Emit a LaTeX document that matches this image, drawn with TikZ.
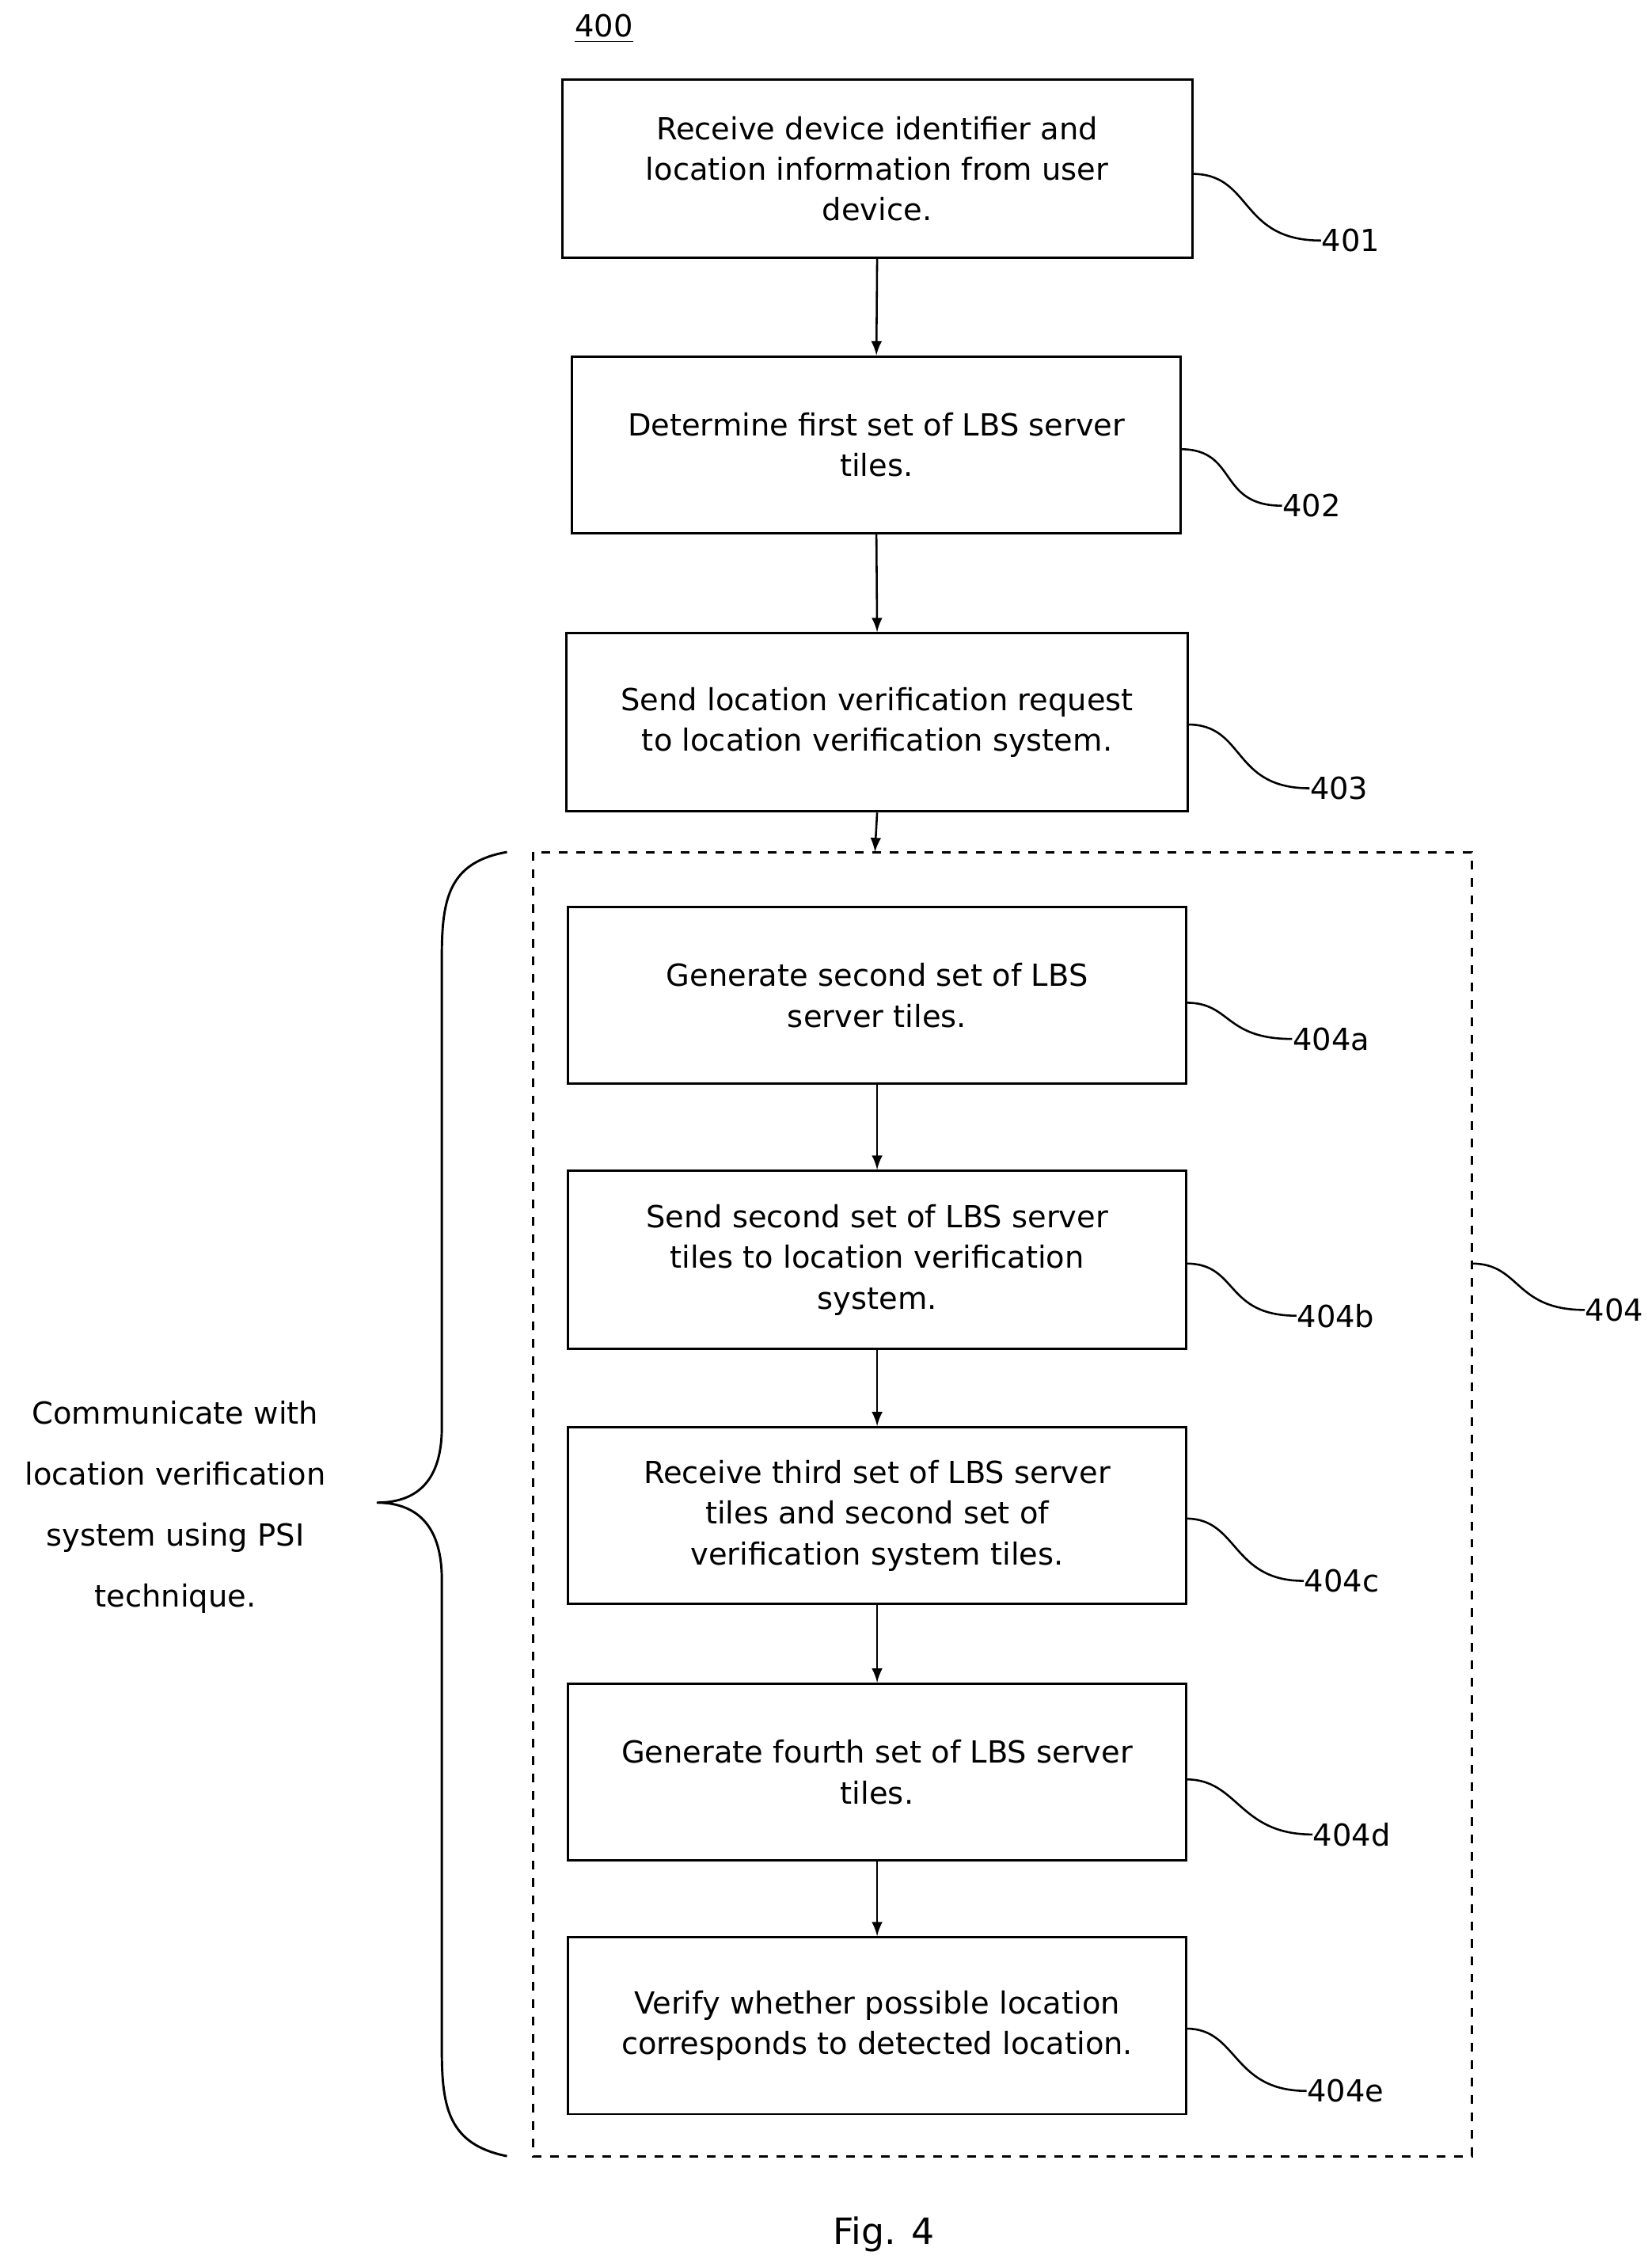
\documentclass[tikz,border=0pt]{standalone}
\usepackage{fontspec}
\setmainfont{DejaVu Sans}
\begin{document}
\begin{tikzpicture}[x=0.5pt,y=-0.5pt,
  box/.style={draw,line width=0.8pt,align=center,inner sep=0pt,font=\fontsize{10.5}{14}\selectfont},
  lbl/.style={anchor=west,font=\fontsize{10.5}{14}\selectfont,inner sep=0pt},
  lead/.style={line width=0.7pt},
  arr/.style={line width=0.7pt,-latex}]
\useasboundingbox (0,0) rectangle (1140,1559);
\node[box,minimum width=217.5pt,minimum height=61.5pt] (b401) at (605.5,116.5) {Receive device identifier and\\location information from user\\device.};
\node[box,minimum width=210pt,minimum height=61pt] (b402) at (605,307) {Determine first set of LBS server\\tiles.};
\node[box,minimum width=214.5pt,minimum height=61.5pt] (b403) at (605.5,498.5) {Send location verification request\\to location verification system.};
\draw[dashed,line width=0.8pt] (368,588) rectangle (1016,1488);
\coordinate (dtop) at (604,588);
\node[box,minimum width=213.5pt,minimum height=61pt] (a) at (605.5,687) {Generate second set of LBS\\server tiles.};
\node[box,minimum width=213.5pt,minimum height=61.5pt] (b) at (605.5,869.5) {Send second set of LBS server\\tiles to location verification\\system.};
\node[box,minimum width=213.5pt,minimum height=61pt] (c) at (605.5,1046) {Receive third set of LBS server\\tiles and second set of\\verification system tiles.};
\node[box,minimum width=213.5pt,minimum height=61pt] (d) at (605.5,1223) {Generate fourth set of LBS server\\tiles.};
\node[box,minimum width=213.5pt,minimum height=61pt] (e) at (605.5,1398) {Verify whether possible location\\corresponds to detected location.};
\draw[arr] (b401.south) -- (b402.north);
\draw[arr] (b402.south) -- (b403.north);
\draw[arr] (b403.south) -- (dtop);
\draw[arr] (a.south) -- (b.north);
\draw[arr] (b.south) -- (c.north);
\draw[arr] (c.south) -- (d.north);
\draw[arr] (d.south) -- (e.north);
% labels
\node[lbl] (l401) at (912,166) {401};
\node[lbl] (l402) at (885,349) {402};
\node[lbl] (l403) at (904,544) {403};
\node[lbl] (l404a) at (892,717) {404a};
\node[lbl] (l404b) at (895,908) {404b};
\node[lbl] (l404c) at (900,1091) {404c};
\node[lbl] (l404d) at (906,1266) {404d};
\node[lbl] (l404e) at (902,1443) {404e};
\node[lbl] (l404) at (1094,904) {404};
\draw[lead] (823,120) .. controls (865,120) and (855,166) .. (l401.west);
\draw[lead] (815,310) .. controls (855,310) and (840,349) .. (l402.west);
\draw[lead] (820,500) .. controls (860,500) and (850,544) .. (l403.west);
\draw[lead] (819,692) .. controls (850,692) and (845,717) .. (l404a.west);
\draw[lead] (819,872) .. controls (855,872) and (845,908) .. (l404b.west);
\draw[lead] (819,1048) .. controls (855,1048) and (850,1091) .. (l404c.west);
\draw[lead] (819,1228) .. controls (855,1228) and (855,1266) .. (l404d.west);
\draw[lead] (819,1400) .. controls (855,1400) and (850,1443) .. (l404e.west);
\draw[lead] (1016,872) .. controls (1050,872) and (1045,904) .. (l404.west);
% brace
\draw[line width=0.8pt] (350,588) .. controls (310,595) and (305,620) .. (305,660) -- (305,985)
  .. controls (305,1025) and (285,1037) .. (260,1037)
  .. controls (285,1037) and (305,1050) .. (305,1090) -- (305,1415)
  .. controls (305,1455) and (310,1480) .. (350,1488);
\node[align=center,font=\fontsize{10.5}{21}\selectfont,inner sep=0pt] (brtext) at (121,1040) {Communicate with\\location verification\\system using PSI\\technique.};
\node[font=\fontsize{10.5}{14}\selectfont,inner sep=0pt] (t400) at (417,20) {\underline{400}};
\node[font=\fontsize{12.5}{15}\selectfont,inner sep=0pt] (fig) at (610,1542) {Fig. 4};
\end{tikzpicture}
\end{document}
